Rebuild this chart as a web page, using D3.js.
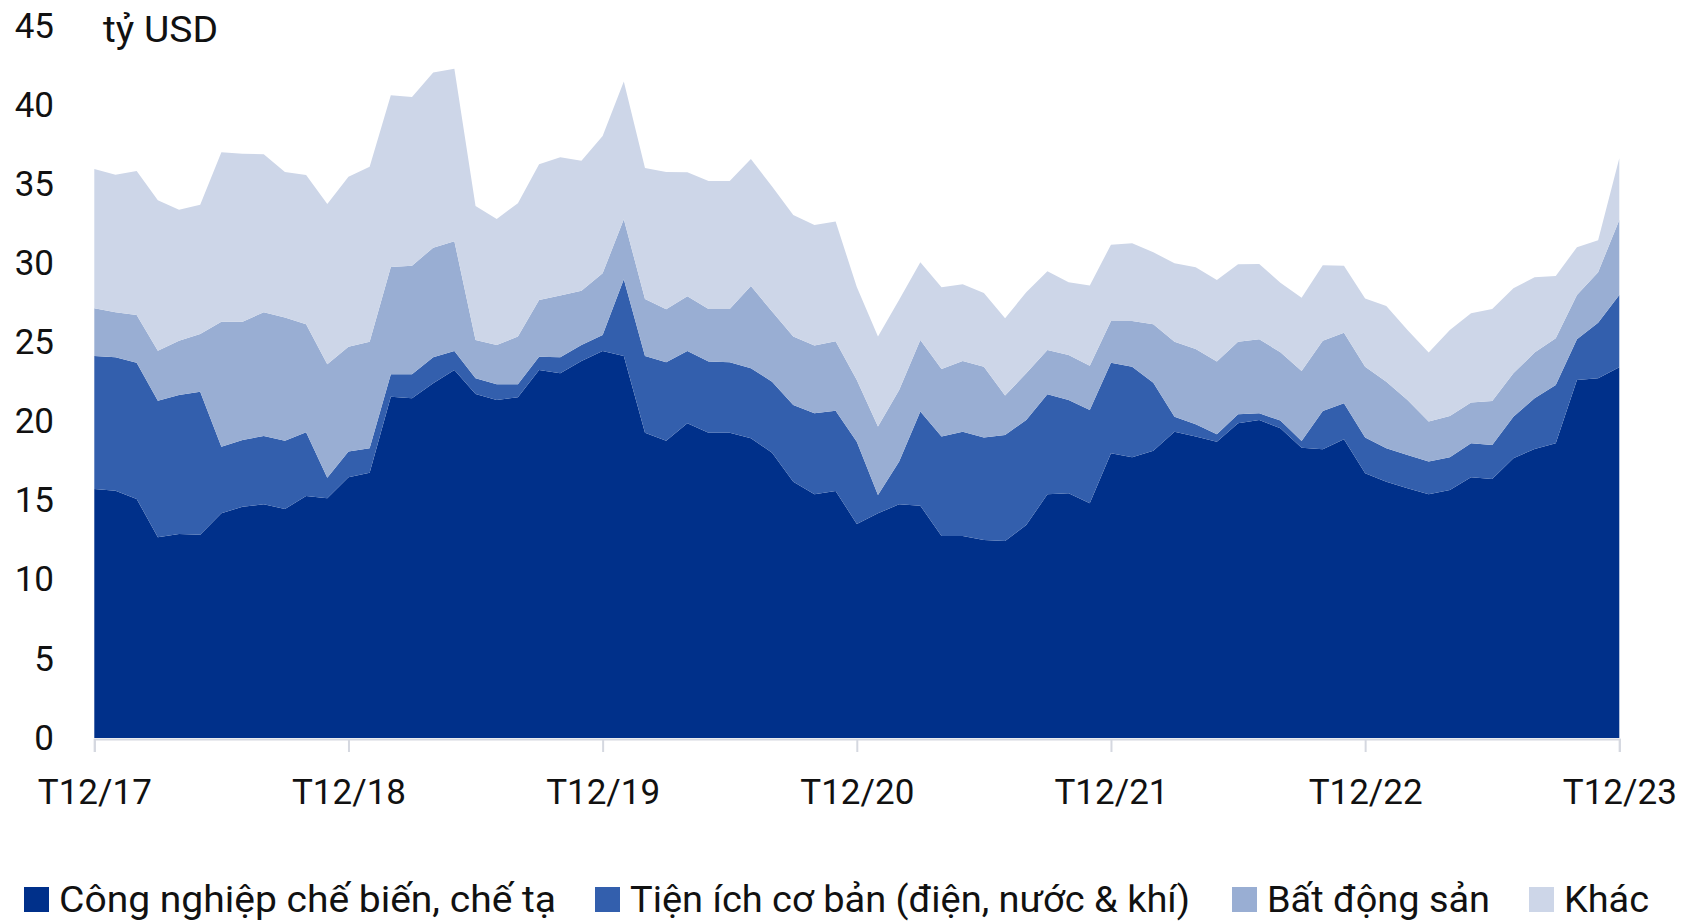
<!DOCTYPE html>
<html>
<head>
<meta charset="utf-8">
<script src="https://cdn.jsdelivr.net/npm/d3@7"></script>
<style>
  body { margin: 0; background: #fff; }
  svg text { font-family: Roboto, "Noto Sans", sans-serif; fill: #111; }
</style>
</head>
<body>
<svg id="chart"></svg>
<script>
// months T12/17 .. T12/23
const months = [
  "T12/17","T1/18","T2/18","T3/18","T4/18","T5/18","T6/18","T7/18","T8/18","T9/18","T10/18","T11/18",
  "T12/18","T1/19","T2/19","T3/19","T4/19","T5/19","T6/19","T7/19","T8/19","T9/19","T10/19","T11/19",
  "T12/19","T1/20","T2/20","T3/20","T4/20","T5/20","T6/20","T7/20","T8/20","T9/20","T10/20","T11/20",
  "T12/20","T1/21","T2/21","T3/21","T4/21","T5/21","T6/21","T7/21","T8/21","T9/21","T10/21","T11/21",
  "T12/21","T1/22","T2/22","T3/22","T4/22","T5/22","T6/22","T7/22","T8/22","T9/22","T10/22","T11/22",
  "T12/22","T1/23","T2/23","T3/23","T4/23","T5/23","T6/23","T7/23","T8/23","T9/23","T10/23","T11/23",
  "T12/23"
];
const xTicks = ["T12/17","T12/18","T12/19","T12/20","T12/21","T12/22","T12/23"];
const yTicks = [0,5,10,15,20,25,30,35,40,45];

// Công nghiệp chế biến, chế tạo
const congNghiep = [
  15.74,15.63,15.11,12.69,12.90,12.85,14.20,14.62,14.77,14.48,15.30,15.15,
  16.48,16.77,21.57,21.47,22.42,23.26,21.74,21.37,21.54,23.26,23.05,23.83,
  24.46,24.15,19.30,18.79,19.89,19.30,19.30,18.94,18.03,16.20,15.40,15.61,
  13.53,14.20,14.77,14.68,12.77,12.77,12.52,12.45,13.46,15.40,15.47,14.84,
  18.00,17.74,18.16,19.36,19.05,18.73,19.89,20.10,19.58,18.35,18.25,18.88,
  16.73,16.20,15.78,15.40,15.68,16.48,16.37,17.68,18.27,18.63,22.63,22.74,
  23.43
];
// Tiện ích cơ bản (điện, nước & khí)
const tienIch = [
  8.41,8.43,8.61,8.63,8.78,9.04,4.21,4.22,4.32,4.31,4.02,1.30,
  1.62,1.54,1.42,1.52,1.64,1.20,1.00,0.99,0.82,0.84,1.01,1.01,
  1.01,4.84,4.85,4.96,4.57,4.49,4.45,4.43,4.49,4.85,5.12,5.08,
  5.20,1.16,2.70,5.95,6.28,6.59,6.48,6.70,6.64,6.33,5.90,5.89,
  5.72,5.73,4.30,0.95,0.78,0.47,0.57,0.42,0.48,0.42,2.42,2.28,
  2.27,2.11,2.11,2.07,2.06,2.15,2.15,2.63,3.20,3.68,2.57,3.51,
  4.57
];
// Bất động sản
const batDongSan = [
  3.01,2.85,3.02,3.16,3.43,3.65,7.90,7.47,7.82,7.78,6.83,7.17,
  6.63,6.74,6.78,6.86,6.93,6.94,2.42,2.48,3.01,3.59,3.90,3.42,
  3.90,3.80,3.60,3.35,3.46,3.33,3.37,5.20,4.43,4.32,4.28,4.39,
  3.90,4.32,4.53,4.53,4.27,4.47,4.47,2.49,2.95,2.80,2.84,2.80,
  2.64,2.89,3.69,4.74,4.76,4.59,4.59,4.68,4.32,4.43,4.43,4.46,
  4.47,4.21,3.48,2.53,2.61,2.57,2.78,2.74,2.89,2.96,2.80,3.19,
  4.74
];
// Khác
const khac = [
  8.81,8.69,9.10,9.51,8.28,8.17,10.71,10.62,9.99,9.21,9.44,10.13,
  10.75,11.05,10.86,10.67,11.07,10.90,8.47,7.96,8.43,8.57,8.74,8.23,
  8.68,8.70,8.28,8.68,7.84,8.08,8.08,8.03,7.90,7.69,7.63,7.56,
  5.87,5.69,5.70,4.91,5.17,4.85,4.66,4.89,5.12,4.97,4.59,5.07,
  4.82,4.91,4.55,4.95,5.16,5.16,4.89,4.76,4.40,4.63,4.78,4.22,
  4.30,4.79,4.42,4.36,5.44,5.64,5.82,5.38,4.76,3.93,3.02,2.02,
  3.90
];

const keys = ["cn", "ti", "bds", "khac"];
const labels = ["Công nghiệp chế biến, chế tạ", "Tiện ích cơ bản (điện, nước & khí)", "Bất động sản", "Khác"];
const colors = ["#00308a", "#335fad", "#99aed3", "#cdd6e8"];

const rows = months.map((m, i) => ({
  month: m, cn: congNghiep[i], ti: tienIch[i], bds: batDongSan[i], khac: khac[i]
}));

const W = 1694, H = 923;
const svg = d3.select("#chart").attr("width", W).attr("height", H);

const x = d3.scalePoint().domain(months).range([94.3, 1619.3]);
const y = d3.scaleLinear().domain([0, 45]).range([738, 26]);
const color = d3.scaleOrdinal().domain(keys).range(colors);

const series = d3.stack().keys(keys)(rows);

const area = d3.area()
  .x(d => x(d.data.month))
  .y0(d => y(d[0]))
  .y1(d => y(d[1]));

svg.append("g")
  .selectAll("path")
  .data(series)
  .join("path")
    .attr("fill", d => color(d.key))
    .attr("d", area);

// x axis
const xAxis = svg.append("g")
  .attr("transform", `translate(0,${y(0) + 1})`)
  .call(d3.axisBottom(x).tickValues(xTicks).tickSize(13).tickPadding(27));
xAxis.select(".domain").attr("stroke", "#d5d8e0").attr("stroke-width", 2);
xAxis.selectAll(".tick line").attr("stroke", "#d5d8e0").attr("stroke-width", 2);
xAxis.selectAll(".tick text")
  .attr("font-size", 35)
  .attr("fill", "#111")
  .style("font-family", "Roboto, sans-serif");

// y axis
const yAxis = svg.append("g")
  .attr("transform", "translate(56,0)")
  .call(d3.axisLeft(y).tickValues(yTicks).tickSize(0).tickPadding(2));
yAxis.select(".domain").remove();
yAxis.selectAll(".tick text")
  .attr("font-size", 35)
  .attr("fill", "#111")
  .style("font-family", "Roboto, sans-serif");

svg.append("text")
  .attr("x", 103)
  .attr("y", 42)
  .attr("font-size", 36)
  .attr("textLength", 115)
  .attr("lengthAdjust", "spacingAndGlyphs")
  .text("tỷ USD");

// legend (kept just above the bottom edge so descenders are not clipped)
const legX = [24, 595, 1232, 1529];
const legW = [497, 560, 223, 85];
const leg = svg.append("g")
  .selectAll("g")
  .data(keys)
  .join("g")
    .attr("transform", (d, i) => `translate(${legX[i]},887)`);
leg.append("rect")
  .attr("width", 25).attr("height", 25)
  .attr("fill", d => color(d));
leg.append("text")
  .attr("x", 35)
  .attr("y", 25)
  .attr("font-size", 36)
  .attr("textLength", (d, i) => legW[i])
  .attr("lengthAdjust", "spacingAndGlyphs")
  .text((d, i) => labels[i]);
</script>
</body>
</html>
